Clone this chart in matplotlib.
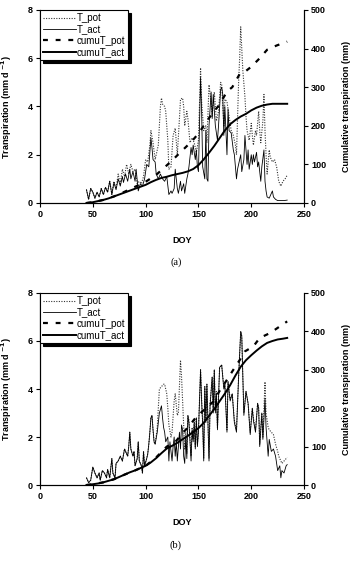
import matplotlib
matplotlib.use('Agg')
import matplotlib.pyplot as plt

plt.rcParams['font.family'] = ['Liberation Sans', 'DejaVu Sans']

# ------------------------------------------------------------------------------
# Panel (a)
# ------------------------------------------------------------------------------
a_tact_doy = [44, 46, 48, 50, 52, 54, 56, 58, 60, 62, 64, 66, 68, 70, 72, 74, 76, 78, 79, 81,
              83, 85, 86, 88, 90, 91, 93, 95, 97, 99, 101, 103, 105, 106, 107, 109, 110, 112, 114, 116,
              118, 120, 122, 124, 125, 127, 128, 130, 131, 133, 134, 136, 137, 139, 140, 141, 143, 144, 145, 147,
              148, 149, 150, 152, 153, 154, 156, 157, 158, 159, 160, 162, 163, 164, 166, 168, 169, 171, 172, 173,
              174, 175, 177, 178, 179, 181, 183, 184, 186, 187, 188, 190, 191, 193, 194, 195, 196, 197, 198, 200,
              201, 202, 203, 205, 206, 207, 209, 210, 212, 213, 214, 215, 217, 218, 220, 221, 223, 225, 228, 231,
              234]
a_tact = [0.55, 0.15, 0.6, 0.45, 0.2, 0.45, 0.25, 0.6, 0.35, 0.65, 0.45, 0.9, 0.35, 0.85, 0.55, 1.0, 0.7, 1.1, 0.85, 1.2,
          0.9, 1.4, 1.0, 1.3, 0.9, 1.4, 0.5, 0.8, 0.7, 1.0, 1.6, 1.5, 2.7, 2.3, 1.8, 1.7, 1.2, 1.0, 1.2, 1.0,
          0.9, 1.1, 0.35, 0.5, 0.4, 0.6, 1.4, 0.6, 0.4, 0.9, 0.5, 0.8, 0.4, 1.0, 1.2, 1.5, 2.3, 2.0, 2.4, 1.8,
          2.2, 1.5, 1.3, 5.2, 3.8, 1.5, 1.0, 3.0, 1.0, 0.9, 3.2, 4.6, 3.5, 4.5, 3.2, 2.6, 3.2, 4.7, 4.8, 4.5,
          2.8, 4.0, 2.0, 3.9, 3.0, 2.9, 2.2, 2.0, 1.0, 1.4, 1.6, 2.0, 1.3, 1.8, 2.8, 2.2, 1.6, 2.2, 1.4, 2.0,
          1.6, 2.0, 1.7, 2.1, 1.5, 1.7, 0.9, 1.5, 2.2, 0.9, 0.5, 0.25, 0.2, 0.3, 0.5, 0.25, 0.15, 0.1, 0.1, 0.1,
          0.12]

a_tpot_doy = [44, 46, 48, 50, 52, 54, 56, 58, 60, 62, 64, 66, 68, 70, 72, 74, 76, 78, 80, 82,
              84, 86, 88, 90, 92, 94, 96, 98, 100, 102, 104, 105, 107, 109, 110, 112, 114, 115, 116, 118,
              119, 121, 122, 124, 126, 128, 130, 132, 133, 135, 136, 137, 139, 140, 142, 144, 146, 148, 150, 152,
              153, 155, 157, 158, 160, 162, 163, 165, 167, 169, 171, 172, 174, 175, 177, 179, 181, 183, 185, 186,
              188, 189, 190, 191, 192, 194, 195, 196, 198, 200, 201, 202, 204, 205, 207, 208, 209, 211, 212, 213,
              214, 215, 217, 218, 220, 222, 224, 226, 228, 230, 232, 234]
a_tpot = [0.55, 0.15, 0.6, 0.45, 0.2, 0.45, 0.25, 0.6, 0.35, 0.65, 0.45, 0.9, 0.35, 0.9, 0.6, 1.2, 0.8, 1.4, 1.1, 1.6,
          1.2, 1.6, 1.3, 1.4, 0.8, 0.9, 0.8, 1.1, 1.8, 1.7, 2.4, 3.0, 2.5, 1.8, 2.0, 2.4, 4.0, 4.35, 4.1, 4.0,
          3.8, 2.6, 1.4, 1.5, 2.8, 3.1, 2.0, 3.5, 4.3, 4.35, 4.0, 3.2, 3.8, 3.5, 2.5, 2.7, 2.5, 2.1, 2.6, 5.6,
          4.2, 3.0, 3.2, 2.5, 4.9, 4.2, 3.6, 4.6, 3.4, 3.8, 5.0, 4.9, 3.2, 4.3, 4.2, 3.6, 3.0, 2.8, 2.4, 2.0,
          5.0, 6.0, 7.3, 6.4, 5.5, 4.4, 3.6, 3.0, 2.6, 3.3, 2.8, 2.4, 3.0, 2.8, 3.8, 3.0, 2.5, 3.4, 4.5, 3.0,
          2.0, 1.2, 2.2, 1.9, 1.7, 1.8, 1.5, 0.9, 0.7, 0.9, 1.0, 1.15]

a_cum_doy = [44, 50, 55, 60, 65, 70, 75, 80, 85, 90, 95, 100, 105, 110, 115, 120, 125, 130, 135, 140,
             145, 150, 155, 160, 165, 170, 175, 180, 185, 190, 195, 200, 205, 210, 215, 220, 225, 230, 234]
a_cumact = [0, 2, 5, 8, 12, 17, 22, 27, 32, 37, 42, 47, 54, 60, 65, 68, 72, 75, 78, 82,
            88, 98, 113, 130, 148, 168, 188, 204, 215, 224, 231, 240, 247, 252, 255, 257, 257, 257, 257]

a_cumpot_doy = [44, 50, 60, 70, 80, 90, 100, 110, 119, 125, 132, 140, 145, 150, 155, 160, 165, 170, 177, 182,
                189, 194, 200, 208, 215, 224, 234]
a_cumpot = [0, 2, 8, 17, 29, 42, 55, 73, 95, 110, 129, 150, 164, 180, 200, 220, 238, 255, 289, 300,
            334, 340, 353, 375, 397, 408, 418]

# ------------------------------------------------------------------------------
# Panel (b)
# ------------------------------------------------------------------------------
b_tact_doy = [44, 46, 48, 50, 52, 54, 56, 57, 59, 61, 63, 64, 66, 68, 69, 71, 72, 74, 76, 78,
              80, 81, 83, 84, 85, 86, 88, 89, 90, 92, 93, 94, 96, 97, 98, 99, 101, 102, 103, 104,
              105, 106, 107, 108, 109, 111, 113, 115, 116, 117, 118, 119, 121, 122, 123, 125, 126, 127, 128, 129,
              130, 132, 133, 134, 135, 136, 137, 138, 139, 140, 141, 143, 144, 145, 146, 147, 148, 149, 150, 152,
              153, 154, 155, 156, 157, 158, 160, 161, 163, 164, 165, 166, 167, 168, 170, 172, 174, 175, 177, 178,
              180, 182, 184, 186, 188, 190, 191, 192, 193, 195, 197, 199, 201, 202, 204, 206, 207, 208, 210, 211,
              213, 214, 216, 217, 219, 221, 223, 225, 226, 227, 228, 229, 231, 233, 234]
b_tact = [0.3, 0.1, 0.2, 0.75, 0.5, 0.3, 0.5, 0.2, 0.6, 0.5, 0.3, 0.65, 0.3, 1.1, 0.5, 0.3, 0.9, 1.0, 1.2, 1.0,
          1.5, 1.4, 1.2, 1.6, 2.2, 1.5, 1.2, 1.4, 0.8, 1.1, 1.8, 1.0, 0.8, 0.5, 1.4, 0.8, 1.1, 1.3, 1.7, 2.2,
          2.8, 2.9, 2.3, 1.8, 1.7, 2.2, 3.0, 3.3, 2.8, 2.4, 2.2, 1.8, 2.0, 1.0, 1.8, 1.0, 1.6, 2.0, 1.2, 1.8,
          1.0, 2.2, 1.5, 2.5, 2.3, 1.2, 0.9, 2.0, 1.1, 2.9, 2.6, 1.0, 2.3, 1.8, 2.6, 1.5, 2.8, 1.6, 2.2, 4.8,
          3.5, 2.5, 1.0, 4.1, 2.6, 4.2, 1.0, 3.3, 4.5, 3.0, 4.8, 3.0, 3.8, 2.3, 4.9, 5.0, 4.0, 4.2, 2.2, 4.3,
          3.5, 3.8, 2.6, 2.2, 4.5, 6.4, 6.2, 4.5, 2.9, 3.9, 3.4, 2.1, 3.2, 2.7, 2.2, 3.4, 3.2, 1.6, 3.0, 1.9,
          3.6, 2.4, 1.2, 1.9, 1.4, 1.5, 1.2, 0.6, 0.7, 0.8, 0.3, 0.6, 0.5, 0.8, 0.85]

b_tpot_doy = [44, 46, 48, 50, 52, 54, 56, 57, 59, 61, 63, 64, 66, 68, 69, 71, 72, 74, 76, 78,
              80, 81, 83, 84, 85, 86, 88, 89, 90, 92, 93, 94, 96, 97, 98, 99, 101, 102, 103, 104,
              105, 106, 107, 108, 109, 111, 113, 115, 117, 118, 120, 121, 122, 124, 125, 127, 128, 130, 131, 133,
              134, 135, 136, 137, 138, 139, 140, 141, 143, 144, 145, 146, 147, 148, 149, 150, 152, 153, 154, 155,
              156, 157, 158, 160, 161, 163, 164, 165, 166, 167, 168, 170, 172, 174, 175, 177, 178, 180, 182, 184,
              186, 188, 190, 191, 192, 193, 195, 197, 199, 201, 202, 204, 206, 207, 208, 210, 211, 213, 214, 216,
              217, 219, 221, 223, 225, 226, 228, 229, 231, 233, 234]
b_tpot = [0.3, 0.1, 0.2, 0.75, 0.5, 0.3, 0.5, 0.2, 0.6, 0.5, 0.3, 0.65, 0.3, 1.1, 0.5, 0.3, 0.9, 1.0, 1.2, 1.0,
          1.5, 1.4, 1.2, 1.6, 2.2, 1.5, 1.2, 1.4, 0.8, 1.1, 1.8, 1.0, 0.8, 0.5, 1.4, 0.8, 1.1, 1.3, 1.7, 2.2,
          2.8, 2.9, 2.3, 1.8, 1.7, 2.4, 4.0, 4.1, 4.2, 4.2, 3.8, 3.2, 2.5, 2.0, 2.2, 3.5, 3.8, 2.9, 3.0, 5.2,
          4.5, 3.5, 2.4, 1.5, 2.2, 1.3, 2.9, 2.7, 1.2, 2.4, 1.9, 2.7, 1.6, 2.8, 1.7, 2.3, 4.8, 3.6, 2.6, 1.1,
          4.1, 2.7, 4.2, 1.1, 3.4, 4.5, 3.1, 4.8, 3.1, 3.9, 2.4, 4.9, 5.0, 4.1, 4.2, 2.3, 4.3, 3.6, 3.8, 2.7,
          2.3, 4.5, 6.4, 6.2, 4.5, 3.0, 3.9, 3.4, 2.2, 3.2, 2.8, 2.3, 3.4, 3.2, 1.7, 3.0, 2.0, 4.3, 3.0, 2.4,
          2.3, 2.2, 2.1, 1.7, 1.4, 1.2, 1.0, 0.9, 1.0, 1.1, 1.15]

b_cum_doy = [44, 50, 55, 60, 65, 70, 75, 80, 85, 90, 95, 100, 105, 110, 115, 120, 125, 130, 135, 140,
             145, 150, 155, 160, 165, 170, 175, 180, 185, 190, 195, 200, 205, 210, 215, 220, 225, 230, 234]
b_cumact = [0, 2, 4, 7, 11, 15, 21, 27, 33, 38, 44, 50, 59, 70, 83, 95, 102, 110, 119, 128,
            138, 148, 162, 180, 198, 218, 238, 260, 285, 308, 325, 338, 350, 361, 370, 375, 379, 381, 383]

b_cumpot_doy = [44, 50, 60, 70, 80, 90, 100, 110, 120, 128, 135, 140, 147, 155, 164, 170, 177, 183, 189, 194,
                202, 208, 218, 227, 234]
b_cumpot = [0, 2, 7, 15, 27, 38, 50, 72, 100, 112, 135, 150, 174, 195, 217, 245, 274, 300, 325, 348,
            361, 383, 396, 413, 426]

x_ticks = [0, 50, 100, 150, 200, 250]
y_ticks = [0, 2, 4, 6, 8]
y2_ticks = [0, 100, 200, 300, 400, 500]
legend_labels = ['T_pot', 'T_act', 'cumuT_pot', 'cumuT_act']


def draw_panel(ax, tpot_doy, tpot, tact_doy, tact, cumpot_doy, cumpot, cum_doy, cumact):
    """Daily transpiration on the left axis, cumulative on the right one."""
    ax2 = ax.twinx()

    l_pot, = ax.plot(tpot_doy, tpot, color='#333333', lw=0.8, linestyle=(0, (1, 1.3)))
    l_act, = ax.plot(tact_doy, tact, color='k', lw=0.6)
    l_cpot, = ax2.plot(cumpot_doy, cumpot, color='k', lw=1.6, linestyle=(0, (2.2, 3.5)))
    l_cact, = ax2.plot(cum_doy, cumact, color='k', lw=1.4)

    ax.set_xlim(0, 250)
    ax.set_ylim(0, 8)
    ax2.set_ylim(0, 500)
    ax.set_xticks(x_ticks)
    ax.set_yticks(y_ticks)
    ax2.set_yticks(y2_ticks)

    for a in (ax, ax2):
        a.spines['top'].set_visible(False)
        for s in a.spines.values():
            s.set_linewidth(0.8)
        a.tick_params(direction='out', length=3, width=0.8, labelsize=6.5, pad=2)
        for lab in a.get_xticklabels() + a.get_yticklabels():
            lab.set_fontweight('bold')

    ax.set_ylabel(r'Transpiration (mm d $^{\mathbf{-1}}$)', fontsize=6.5, fontweight='bold')
    ax.yaxis.set_label_coords(-0.098, 0.5)
    ax2.set_ylabel('Cumulative transpiration (mm)', fontsize=6.5, fontweight='bold')
    ax2.yaxis.set_label_coords(1.145, 0.5)

    leg = ax2.legend([l_pot, l_act, l_cpot, l_cact], legend_labels,
                     loc='upper left', bbox_to_anchor=(0.0, 1.0), borderaxespad=0.0,
                     fontsize=7, frameon=True, fancybox=False,
                     shadow={'color': 'k', 'alpha': 1.0},
                     handlelength=3.4, handletextpad=0.1, labelspacing=0.15,
                     borderpad=0.3)
    leg.get_frame().set_edgecolor('k')
    leg.get_frame().set_linewidth(0.8)
    leg.set_zorder(10)
    return ax2


fig = plt.figure(figsize=(3.54, 5.84), dpi=100, facecolor='white')
ax_a = fig.add_axes([0.113, 0.6524, 0.746, 0.3305])
ax_b = fig.add_axes([0.113, 0.1695, 0.746, 0.3288])

draw_panel(ax_a, a_tpot_doy, a_tpot, a_tact_doy, a_tact, a_cumpot_doy, a_cumpot, a_cum_doy, a_cumact)
draw_panel(ax_b, b_tpot_doy, b_tpot, b_tact_doy, b_tact, b_cumpot_doy, b_cumpot, b_cum_doy, b_cumact)

fig.text(0.515, 0.589, 'DOY', ha='center', va='center', fontsize=6.5, fontweight='bold')
fig.text(0.497, 0.551, '(a)', ha='center', va='center', fontsize=7.5, family='Liberation Serif')
fig.text(0.515, 0.1045, 'DOY', ha='center', va='center', fontsize=6.5, fontweight='bold')
fig.text(0.497, 0.067, '(b)', ha='center', va='center', fontsize=7.5, family='Liberation Serif')

fig.savefig('out.png', dpi=100, facecolor='white')
